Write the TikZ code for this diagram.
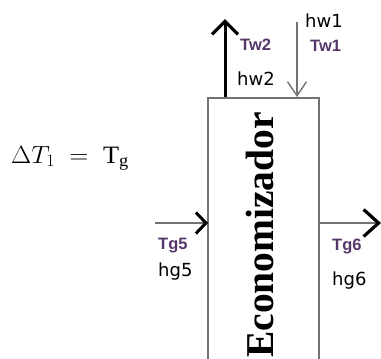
\documentclass[tikz,border=0pt]{standalone}
\usepackage{fontspec}
\setmainfont{Liberation Serif}
\newfontfamily\lsans{Liberation Sans}
\newfontfamily\dsans{DejaVu Sans}
\usetikzlibrary{arrows.meta}
\definecolor{linegray}{RGB}{115,115,115}
\definecolor{lblpurple}{RGB}{85,55,105}
\tikzset{
  boxline/.style={draw=linegray, line width=2.2pt},
  thinflow/.style={draw=linegray, line width=1.6pt, -{Straight Barb[length=14pt,width=19pt,line width=1.4pt]}},
  sideflowL/.style={draw=linegray, line width=2.2pt, -{Straight Barb[length=10pt,width=21pt,line width=3pt,color=black]}},
  sideflowR/.style={draw=linegray, line width=2.2pt, -{Straight Barb[length=15pt,width=27pt,line width=3.2pt,color=black]}},
  upflow/.style={draw=black, line width=3pt, -{Straight Barb[length=13pt,width=26pt,line width=3.2pt]}},
  hlbl/.style={font=\dsans\fontsize{18}{18}\selectfont, inner sep=0pt, text=black, anchor=base west},
  tlbl/.style={font=\lsans\bfseries\fontsize{16.5}{16.5}\selectfont, inner sep=0pt, text=lblpurple, anchor=base west},
}
\begin{document}
\begin{tikzpicture}[x=1pt,y=-1pt]
\useasboundingbox (0,0) rectangle (381,359);
\clip (0,0) rectangle (381,359);
\node[boxline, minimum width=111pt, minimum height=290pt, anchor=north west, inner sep=0pt] (eco) at (207,97) {};
\node[rotate=90, font=\bfseries\fontsize{39.5}{39.5}\selectfont, inner sep=0pt] (ecotxt) at (260,235) {Economizador};
% top flows
\coordinate (wout) at (225,97);
\coordinate (wouttip) at (225,19);
\coordinate (winstart) at (297,22);
\coordinate (win) at (297,97);
\draw[upflow] (wout) -- (wouttip);
\draw[thinflow] (winstart) -- (win);
% side flows
\coordinate (gin0) at (155,223);
\coordinate (gin) at (208,223);
\coordinate (gout) at (318,223);
\coordinate (gout1) at (381,223);
\draw[sideflowL] (gin0) -- (gin);
\draw[sideflowR] (gout) -- (gout1);
% labels
\node[hlbl] (hw1) at (305,27) {hw1};
\node[tlbl] (tw1) at (310,51) {Tw1};
\node[tlbl] (tw2) at (240,50) {Tw2};
\node[hlbl] (hw2) at (237,85) {hw2};
\node[tlbl] (tg5) at (158,249) {Tg5};
\node[hlbl] (hg5) at (158,276) {hg5};
\node[tlbl] (tg6) at (332,250) {Tg6};
\node[hlbl] (hg6) at (332,285) {hg6};
\node[font=\fontsize{25}{25}\selectfont, inner sep=0pt, anchor=base west] (eq) at (11,163) {\scalebox{1.05}[1]{$\Delta T_{1}\;=\;\mathrm{T}_{\mathrm{g}}$}};
\end{tikzpicture}
\end{document}
